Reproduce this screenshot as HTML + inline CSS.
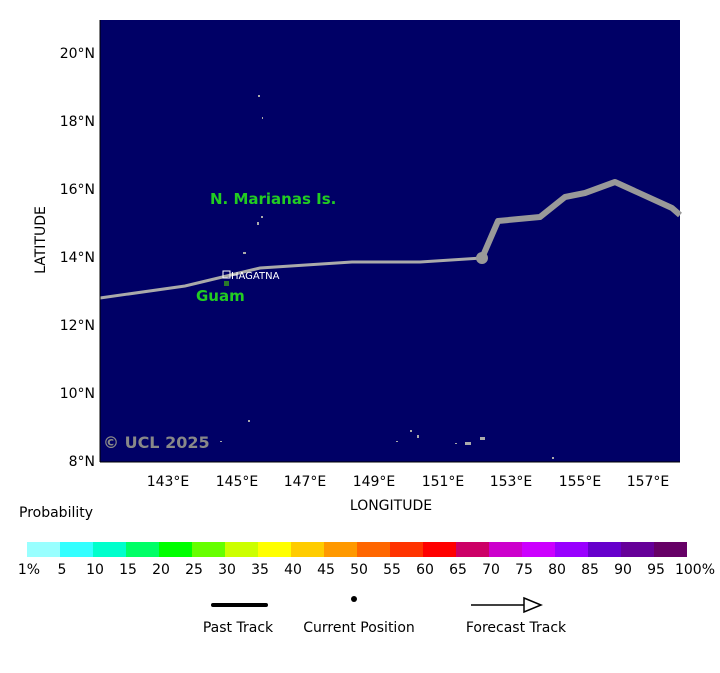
<!DOCTYPE html>
<html><head><meta charset="utf-8"><style>
body{margin:0;background:#fff;width:720px;height:669px;overflow:hidden;font-family:"DejaVu Sans","Liberation Sans",sans-serif;}
</style></head><body>
<svg width="720" height="669" xmlns="http://www.w3.org/2000/svg" font-family="DejaVu Sans, Liberation Sans, sans-serif">
<rect x="100" y="20" width="580" height="442" fill="#000066"/>
<g fill="#aaa">
<rect x="258" y="95" width="2" height="2"/><rect x="262" y="117" width="1" height="2"/>
<rect x="261" y="216" width="2" height="2"/><rect x="257" y="222" width="2" height="3"/>
<rect x="243" y="252" width="3" height="2"/><rect x="248" y="420" width="2" height="2"/>
<rect x="410" y="430" width="2" height="2"/><rect x="417" y="435" width="2" height="3"/>
<rect x="465" y="442" width="6" height="3"/><rect x="480" y="437" width="5" height="3"/>
<rect x="552" y="457" width="2" height="2"/><rect x="396" y="441" width="2" height="1"/>
<rect x="220" y="441" width="2" height="1"/><rect x="455" y="443" width="2" height="1"/>
</g>
<polyline points="100,298 185,286 260,268 352,262 420,262 482,258" fill="none" stroke="#aaa" stroke-width="3"/>
<polyline points="482,258 498,221 540,217 565,197 585,193 615,182 672,208 680,215" fill="none" stroke="#999" stroke-width="6" stroke-linejoin="round"/>
<circle cx="482" cy="258" r="6" fill="#999"/>
<rect x="224" y="281" width="5" height="5" fill="#2a7a2a"/>
<rect x="223" y="271" width="7" height="7" fill="none" stroke="#fff" stroke-width="1"/>
<text x="231" y="279" font-size="10" fill="#fff">HAGATNA</text>
<text x="210" y="204" font-size="15" font-weight="bold" fill="#22cc22">N. Marianas Is.</text>
<text x="196" y="301" font-size="15" font-weight="bold" fill="#22cc22">Guam</text>
<text x="103" y="448" font-size="16" font-weight="bold" fill="#888">© UCL 2025</text>
<g stroke="#000" stroke-width="1">
<line x1="100" y1="20" x2="100" y2="462"/><line x1="100" y1="462" x2="680" y2="462"/>
</g>
<g font-size="14" fill="#000" text-anchor="end">
<text x="95" y="58">20°N</text><text x="95" y="126">18°N</text><text x="95" y="194">16°N</text>
<text x="95" y="262">14°N</text><text x="95" y="330">12°N</text><text x="95" y="398">10°N</text><text x="95" y="466">8°N</text>
</g>
<g font-size="14" fill="#000" text-anchor="middle">
<text x="168" y="486">143°E</text><text x="237" y="486">145°E</text><text x="305" y="486">147°E</text>
<text x="374" y="486">149°E</text><text x="443" y="486">151°E</text><text x="511" y="486">153°E</text>
<text x="580" y="486">155°E</text><text x="648" y="486">157°E</text>
<text x="391" y="510">LONGITUDE</text>
</g>
<text transform="translate(45,240) rotate(-90)" font-size="14" text-anchor="middle">LATITUDE</text>
<text x="19" y="517" font-size="14">Probability</text>
<g>
<rect x="27" y="542" width="33" height="15" fill="#99ffff"/><rect x="60" y="542" width="33" height="15" fill="#33ffff"/>
<rect x="93" y="542" width="33" height="15" fill="#00ffcc"/><rect x="126" y="542" width="33" height="15" fill="#00ff66"/>
<rect x="159" y="542" width="33" height="15" fill="#00ff00"/><rect x="192" y="542" width="33" height="15" fill="#66ff00"/>
<rect x="225" y="542" width="33" height="15" fill="#ccff00"/><rect x="258" y="542" width="33" height="15" fill="#ffff00"/>
<rect x="291" y="542" width="33" height="15" fill="#ffcc00"/><rect x="324" y="542" width="33" height="15" fill="#ff9900"/>
<rect x="357" y="542" width="33" height="15" fill="#ff6600"/><rect x="390" y="542" width="33" height="15" fill="#ff3300"/>
<rect x="423" y="542" width="33" height="15" fill="#ff0000"/><rect x="456" y="542" width="33" height="15" fill="#cc0066"/>
<rect x="489" y="542" width="33" height="15" fill="#cc00cc"/><rect x="522" y="542" width="33" height="15" fill="#cc00ff"/>
<rect x="555" y="542" width="33" height="15" fill="#9900ff"/><rect x="588" y="542" width="33" height="15" fill="#6600cc"/>
<rect x="621" y="542" width="33" height="15" fill="#660099"/><rect x="654" y="542" width="33" height="15" fill="#660066"/>
</g>
<g font-size="14" fill="#000" text-anchor="middle">
<text x="29" y="574">1%</text><text x="62" y="574">5</text><text x="95" y="574">10</text><text x="128" y="574">15</text>
<text x="161" y="574">20</text><text x="194" y="574">25</text><text x="227" y="574">30</text><text x="260" y="574">35</text>
<text x="293" y="574">40</text><text x="326" y="574">45</text><text x="359" y="574">50</text><text x="392" y="574">55</text>
<text x="425" y="574">60</text><text x="458" y="574">65</text><text x="491" y="574">70</text><text x="524" y="574">75</text>
<text x="557" y="574">80</text><text x="590" y="574">85</text><text x="623" y="574">90</text><text x="656" y="574">95</text>
<text x="695" y="574">100%</text>
</g>
<line x1="213" y1="605" x2="266" y2="605" stroke="#000" stroke-width="4" stroke-linecap="round"/>
<circle cx="354" cy="599" r="3" fill="#000"/>
<line x1="471" y1="605" x2="525" y2="605" stroke="#000" stroke-width="1.5"/>
<polygon points="524,598 541,605 524,612" fill="#fff" stroke="#000" stroke-width="1.5"/>
<g font-size="14" fill="#000" text-anchor="middle">
<text x="238" y="632">Past Track</text><text x="359" y="632">Current Position</text><text x="516" y="632">Forecast Track</text>
</g>
</svg>
</body></html>
